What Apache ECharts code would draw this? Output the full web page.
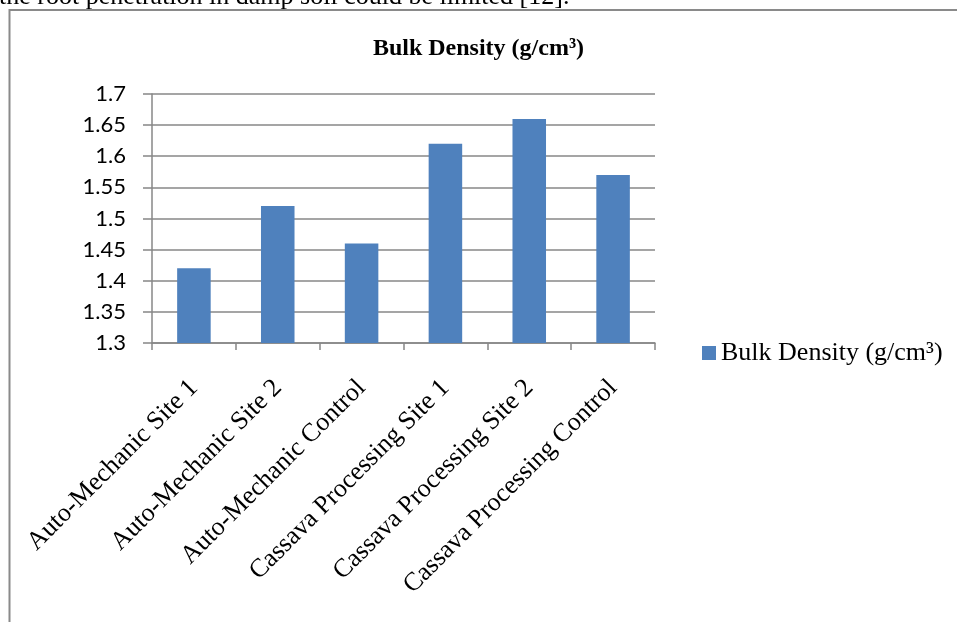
<!DOCTYPE html>
<html>
<head>
<meta charset="utf-8">
<title>Bulk Density (g/cm³)</title>
<script src="https://cdn.jsdelivr.net/npm/echarts@6/dist/echarts.min.js"></script>
<style>
  html, body { margin: 0; padding: 0; background: #ffffff; }
  #chart { width: 957px; height: 622px; }
</style>
</head>
<body>
<div id="chart"></div>
<script>
// Sampling sites
const categories = [
  'Auto-Mechanic Site 1',
  'Auto-Mechanic Site 2',
  'Auto-Mechanic Control',
  'Cassava Processing Site 1',
  'Cassava Processing Site 2',
  'Cassava Processing Control'
];

// Bulk density per site, g/cm³
const bulkDensity = [1.42, 1.52, 1.46, 1.62, 1.66, 1.57];

// Value axis range
const yMin = 1.3;
const yMax = 1.7;
const yStep = 0.05;

const seriesName = 'Bulk Density (g/cm³)';
const captionLine = 'the root penetration in damp soil could be limited [12].';

const serif = '"Liberation Serif", "Times New Roman", serif';
const gray = '#878787';

const chart = echarts.init(document.getElementById('chart'), null, { renderer: 'canvas' });

chart.setOption({
  backgroundColor: '#ffffff',
  animation: false,
  title: {
    text: seriesName,
    left: 'center',
    top: 32,
    textStyle: { fontFamily: serif, fontSize: 24, fontWeight: 'bold', color: '#000000' }
  },
  legend: {
    left: 697,
    top: 335,
    icon: 'rect',
    itemWidth: 14,
    itemHeight: 14,
    textStyle: { fontFamily: serif, fontSize: 26, color: '#000000' },
    data: [seriesName]
  },
  grid: { left: 152, right: 302, top: 94, bottom: 279, containLabel: false },
  xAxis: {
    type: 'category',
    data: categories,
    axisLine: { show: true, lineStyle: { color: gray, width: 1.5 } },
    axisTick: { show: true, length: 7, lineStyle: { color: gray, width: 1.5 } },
    axisLabel: {
      interval: 0,
      rotate: 45,
      margin: 41,
      fontFamily: serif,
      fontSize: 26,
      color: '#000000'
    }
  },
  yAxis: {
    type: 'value',
    min: yMin,
    max: yMax,
    interval: yStep,
    axisLine: { show: true, lineStyle: { color: gray, width: 1.5 } },
    axisTick: { show: true, length: 9, lineStyle: { color: gray, width: 1.5 } },
    splitLine: { show: true, lineStyle: { color: gray, width: 1.5 } },
    axisLabel: {
      margin: 26,
      fontFamily: 'Lato, "Open Sans", sans-serif',
      fontSize: 22,
      color: '#000000',
      formatter: v => String(parseFloat(v.toFixed(2)))
    }
  },
  series: [{
    name: seriesName,
    type: 'bar',
    data: bulkDensity,
    barWidth: '40%',
    itemStyle: { color: '#4f81bd' }
  }],
  graphic: [
    {
      type: 'text',
      left: -1,
      top: -16,
      silent: true,
      style: { text: captionLine, fontFamily: serif, fontSize: 26, fill: '#000000' }
    },
    {
      type: 'rect',
      silent: true,
      shape: { x: 9.5, y: 10, width: 1100, height: 800 },
      style: { fill: 'none', stroke: '#8a8a8a', lineWidth: 2 }
    }
  ]
});
</script>
</body>
</html>
